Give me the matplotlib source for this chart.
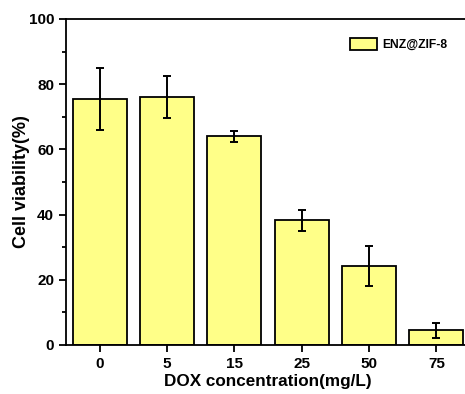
import numpy as np
import matplotlib.pyplot as plt
from matplotlib.ticker import MultipleLocator

# Données
concentrations = ["0", "5", "15", "25", "50", "75"]
viabilite = [75.4, 76.0, 64.0, 38.2, 24.2, 4.6]
erreur = [9.6, 6.5, 1.7, 3.2, 6.2, 2.3]

plt.rcParams['font.family'] = ['Liberation Sans', 'DejaVu Sans']
plt.rcParams['font.weight'] = 'bold'

fig = plt.figure(figsize=(4.65, 3.94), dpi=100)
ax = fig.add_axes([66 / 465, 1 - 345 / 394, 404 / 465, 326 / 394])

x = np.arange(len(concentrations))
ax.bar(x, viabilite, width=0.8, color='#FFFF88', edgecolor='black',
       linewidth=1.3, label='ENZ@ZIF-8', zorder=2)
ax.errorbar(x, viabilite, yerr=erreur, fmt='none', ecolor='black',
            elinewidth=1.4, capsize=3, capthick=1.4, zorder=3)

ax.set_xlim(-0.5, 5.5)
ax.set_ylim(0, 100)
ax.set_xticks(x)
ax.set_xticklabels(concentrations)
ax.yaxis.set_major_locator(MultipleLocator(20))
ax.yaxis.set_minor_locator(MultipleLocator(10))
ax.tick_params(axis='both', which='major', direction='out', length=5, width=1.3, labelsize=11)
ax.tick_params(axis='y', which='minor', direction='out', length=3, width=1.3)
for s in ax.spines.values():
    s.set_linewidth(1.3)

ax.set_xlabel("DOX concentration(mg/L)", fontsize=12.3, fontweight='bold', labelpad=2)
ax.set_ylabel("Cell viability(%)", fontsize=13, fontweight='bold', labelpad=-1)

leg = ax.legend(loc='upper right', bbox_to_anchor=(0.96, 0.96), frameon=False,
                borderpad=0, prop={'size': 8.7, 'weight': 'bold'},
                handlelength=2.2, handleheight=1.1, handletextpad=0.5)

fig.savefig("out.png", dpi=100)
